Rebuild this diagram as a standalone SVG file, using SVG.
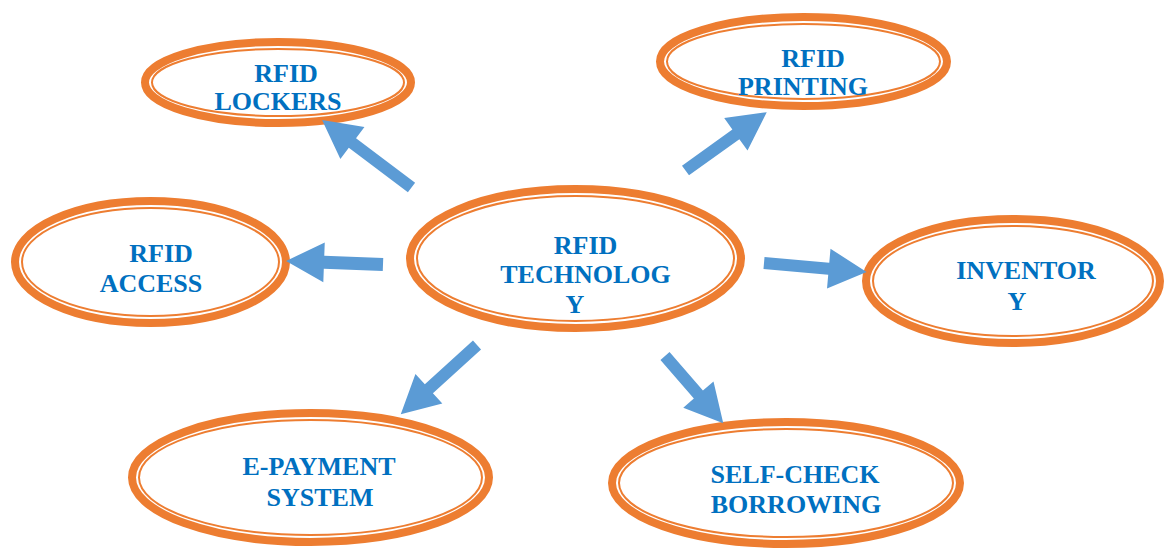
<svg xmlns="http://www.w3.org/2000/svg" width="1164" height="548" viewBox="0 0 1164 548">
<style>
.band{fill:#fff;stroke:#ED7D31;stroke-width:8}
.inner{fill:none;stroke:#ED7D31;stroke-width:2}
.lbl{font-family:"Liberation Serif","Times New Roman",serif;font-weight:bold;font-size:26px;fill:#0070C0;text-anchor:middle}
.arr{fill:#5B9BD5}
</style>
<rect width="1164" height="548" fill="#fff"/>
<g id="node-lockers">
<ellipse class="band" cx="278" cy="82.5" rx="133" ry="40.5"/>
<ellipse class="inner" cx="278" cy="82.5" rx="126" ry="33.5"/>
<text class="lbl" x="286" y="82">RFID</text>
<text class="lbl" x="278" y="110">LOCKERS</text>
</g>
<g id="node-printing">
<ellipse class="band" cx="803.5" cy="61.5" rx="143.5" ry="44.5"/>
<ellipse class="inner" cx="803.5" cy="61.5" rx="136.5" ry="37.5"/>
<text class="lbl" x="813" y="67">RFID</text>
<text class="lbl" x="803" y="95">PRINTING</text>
</g>
<g id="node-access">
<ellipse class="band" cx="150.5" cy="262" rx="135.5" ry="61"/>
<ellipse class="inner" cx="150.5" cy="262" rx="128.5" ry="54"/>
<text class="lbl" x="161" y="262">RFID</text>
<text class="lbl" x="151" y="292">ACCESS</text>
</g>
<g id="node-technology">
<ellipse class="band" cx="575.5" cy="258.5" rx="165.5" ry="69.5"/>
<ellipse class="inner" cx="575.5" cy="258.5" rx="158.5" ry="62.5"/>
<text class="lbl" x="585.5" y="254">RFID</text>
<text class="lbl" x="585.5" y="283">TECHNOLOG</text>
<text class="lbl" x="575" y="313">Y</text>
</g>
<g id="node-inventory">
<ellipse class="band" cx="1013" cy="281" rx="147" ry="62"/>
<ellipse class="inner" cx="1013" cy="281" rx="140" ry="55"/>
<text class="lbl" x="1026" y="279">INVENTOR</text>
<text class="lbl" x="1017" y="310">Y</text>
</g>
<g id="node-epayment">
<ellipse class="band" cx="310.5" cy="477.5" rx="178.5" ry="64.5"/>
<ellipse class="inner" cx="310.5" cy="477.5" rx="171.5" ry="57.5"/>
<text class="lbl" x="319" y="475">E-PAYMENT</text>
<text class="lbl" x="320" y="506">SYSTEM</text>
</g>
<g id="node-selfcheck">
<ellipse class="band" cx="786" cy="483" rx="174" ry="61"/>
<ellipse class="inner" cx="786" cy="483" rx="167" ry="54"/>
<text class="lbl" x="795" y="483">SELF-CHECK</text>
<text class="lbl" x="796" y="513">BORROWING</text>
</g>
<g id="connectors">
<polygon class="arr" points="0,-6 74,-6 74,-20 112,0 74,20 74,6 0,6" transform="translate(411.5,187.5) rotate(-142.98)"/>
<polygon class="arr" points="0,-6 62,-6 62,-20 100,0 62,20 62,6 0,6" transform="translate(685.5,170.5) rotate(-35.67)"/>
<polygon class="arr" points="0,-6.5 59,-6.5 59,-20 97,0 59,20 59,6.5 0,6.5" transform="translate(383,264.5) rotate(-177.93)"/>
<polygon class="arr" points="0,-6 65,-6 65,-20 103,0 65,20 65,6 0,6" transform="translate(764,263) rotate(4.99)"/>
<polygon class="arr" points="0,-6 65,-6 65,-20 103,0 65,20 65,6 0,6" transform="translate(477,345) rotate(137.76)"/>
<polygon class="arr" points="0,-6 51,-6 51,-20 89,0 51,20 51,6 0,6" transform="translate(665,356) rotate(49.1)"/>
</g>
</svg>
